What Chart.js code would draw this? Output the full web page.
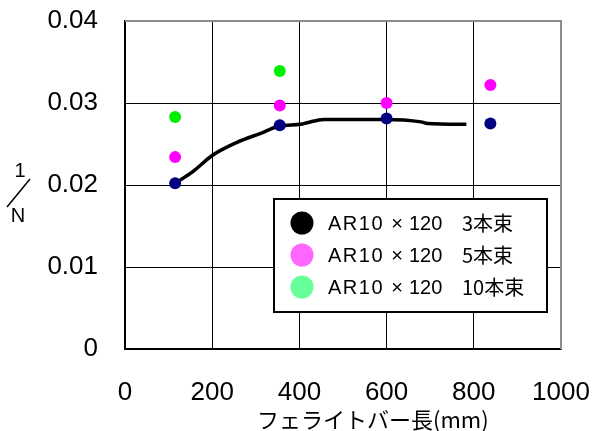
<!DOCTYPE html>
<html>
<head>
<meta charset="utf-8">
<script src="https://cdn.jsdelivr.net/npm/chart.js@4"></script>
<style>
  body { margin: 0; background: #fff; }
  #wrap { width: 594px; height: 431px; }
</style>
</head>
<body>
<div id="wrap"><canvas id="chart" width="594" height="431"></canvas></div>
<script>
// bar length (mm) and 1/N values
const barLen = [115, 355, 600, 838];
const bundle3 = [0.0202, 0.0273, 0.0281, 0.0275];
const bundle5 = [0.0234, 0.0297, 0.0300, 0.0322];
const bundle10 = [0.0283, 0.0339];
// fitted curve for the 3-bundle case
const curveX = [115, 157, 200, 257, 311, 355, 403, 418, 456, 594, 679, 694, 783];
const curveY = [0.0202, 0.0217, 0.0236, 0.0252, 0.0263, 0.0272, 0.0274, 0.0276, 0.0280, 0.0280, 0.0277, 0.0275, 0.0274];

const legendLabels = ['3本束', '5本束', '10本束'];
const legendColors = ['#000000', '#ff66ff', '#66ff99'];

const toPts = (xs, ys) => ys.map((y, i) => ({ x: xs[i], y: y }));

// legend, y-axis label, x-axis title and top/right frame
const extras = {
    id: 'extras',
    afterDraw(chart) {
        const ctx = chart.ctx;
        const a = chart.chartArea;
        ctx.save();

        // grey frame on top and right
        ctx.strokeStyle = '#8c8c8c';
        ctx.lineWidth = 2;
        ctx.beginPath();
        ctx.moveTo(a.left, a.top);
        ctx.lineTo(a.right, a.top);
        ctx.lineTo(a.right, a.bottom);
        ctx.stroke();

        // legend box
        ctx.fillStyle = '#fff';
        ctx.fillRect(274, 199, 273, 113);
        ctx.strokeStyle = '#000';
        ctx.lineWidth = 2;
        ctx.strokeRect(274, 199, 273, 113);
        ctx.textBaseline = 'middle';
        legendLabels.forEach((lab, i) => {
            const y = 223 + i * 32;
            ctx.fillStyle = legendColors[i];
            ctx.beginPath();
            ctx.arc(302, y, 11.5, 0, Math.PI * 2);
            ctx.fill();
            ctx.fillStyle = '#000';
            ctx.font = '20px "Liberation Sans"';
            ctx.textAlign = 'left';
            ctx.letterSpacing = '1.5px';
            ctx.fillText('AR10', 328, y + 1);
            ctx.letterSpacing = '0px';
            ctx.textAlign = 'center';
            ctx.fillText('×', 397, y + 1);
            ctx.textAlign = 'left';
            ctx.fillText('120', 409, y + 1);
            ctx.font = '20px "Noto Sans CJK JP"';
            ctx.fillText(lab, 462, y);
        });

        // y-axis label 1/N
        ctx.fillStyle = '#000';
        ctx.font = '20px "Liberation Sans"';
        ctx.textAlign = 'center';
        ctx.fillText('1', 20, 171);
        ctx.fillText('N', 18, 216);
        ctx.lineWidth = 1.5;
        ctx.beginPath();
        ctx.moveTo(7, 207);
        ctx.lineTo(30, 179);
        ctx.stroke();

        // x-axis title
        ctx.textAlign = 'left';
        ctx.textBaseline = 'alphabetic';
        ctx.font = '22px "Noto Sans CJK JP"';
        ctx.fillText('フェライトバー長(mm)', 257, 428);

        ctx.restore();
    }
};

new Chart(document.getElementById('chart'), {
    type: 'scatter',
    data: {
        datasets: [
            {
                type: 'line',
                data: toPts(curveX, curveY),
                borderColor: '#000',
                borderWidth: 3.5,
                pointRadius: 0,
                cubicInterpolationMode: 'monotone',
                order: 4
            },
            { data: toPts(barLen, bundle3), backgroundColor: '#000080', pointRadius: 6, borderWidth: 0, order: 1 },
            { data: toPts(barLen, bundle5), backgroundColor: '#ff00ff', pointRadius: 6, borderWidth: 0, order: 2 },
            { data: toPts(barLen, bundle10), backgroundColor: '#00ee00', pointRadius: 6, borderWidth: 0, order: 3 }
        ]
    },
    options: {
        responsive: false,
        animation: false,
        layout: { autoPadding: false, padding: { top: 21, right: 33, left: 0, bottom: 0 } },
        plugins: { legend: { display: false }, tooltip: { enabled: false } },
        scales: {
            x: {
                type: 'linear',
                min: 0, max: 1000,
                ticks: {
                    stepSize: 200, padding: 28, color: '#000',
                    font: { family: 'Liberation Sans', size: 26 },
                    callback: v => String(v)
                },
                grid: { color: '#000', lineWidth: 1, drawTicks: false },
                border: { color: '#000', width: 1.5 },
                afterFit(scale) {
                    scale.height = 82;
                    scale.paddingLeft = 0;
                    scale.paddingRight = 0;
                }
            },
            y: {
                min: 0, max: 0.04,
                ticks: {
                    stepSize: 0.01, padding: 27, color: '#000',
                    font: { family: 'Liberation Sans', size: 26 },
                    callback: v => v === 0 ? '0' : v.toFixed(2)
                },
                grid: { color: '#000', lineWidth: 1, drawTicks: false },
                border: { color: '#000', width: 1.5 },
                afterFit(scale) {
                    scale.width = 125;
                    scale.paddingTop = 0;
                    scale.paddingBottom = 0;
                }
            }
        }
    },
    plugins: [extras]
});
</script>
</body>
</html>
